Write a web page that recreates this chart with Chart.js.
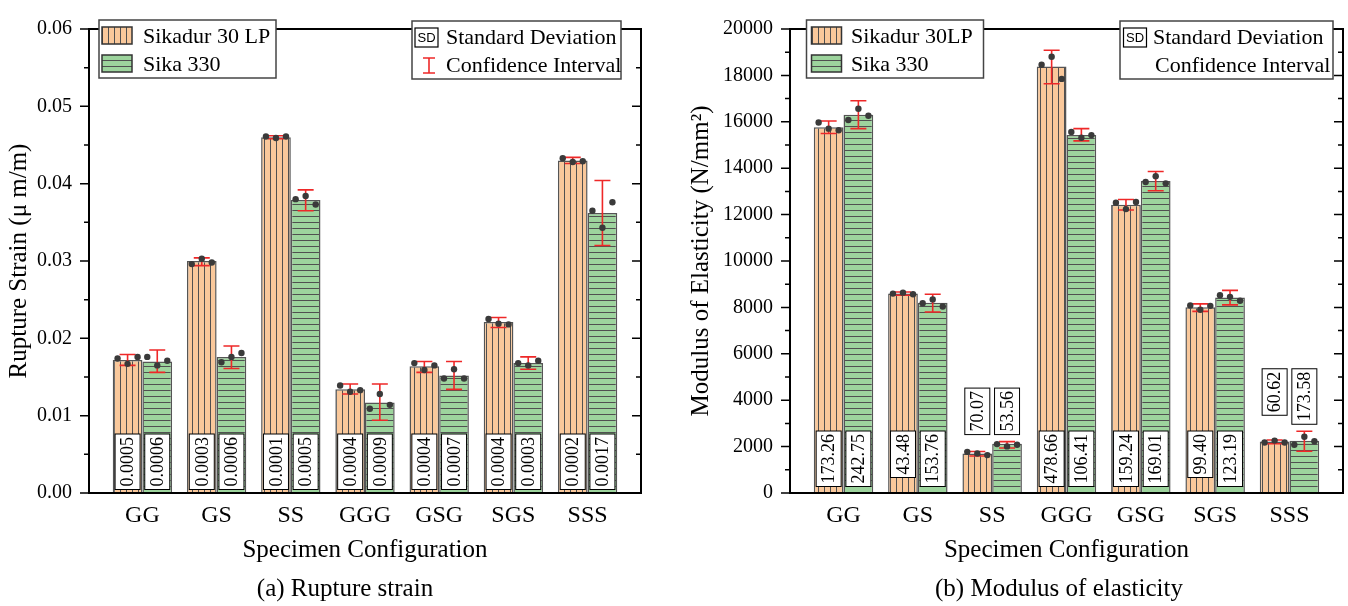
<!DOCTYPE html>
<html>
<head>
<meta charset="utf-8">
<script src="https://cdn.jsdelivr.net/npm/chart.js@4"></script>
<style>
  body { margin: 0; background: #fff; width: 1348px; height: 606px; overflow: hidden; position: relative; font-family: "Liberation Serif", serif; }
  canvas { position: absolute; top: 0; }
  .cap { position: absolute; top: 573px; width: 400px; line-height: 30px; font-size: 25px; text-align: center; color: #000; }
</style>
</head>
<body>
<canvas id="strain" width="674" height="606" style="left:0"></canvas>
<canvas id="modulus" width="674" height="606" style="left:674px"></canvas>
<div class="cap" style="left:145px">(a) Rupture strain</div>
<div class="cap" style="left:859px">(b) Modulus of elasticity</div>
<script>
const configs = ['GG', 'GS', 'SS', 'GGG', 'GSG', 'SGS', 'SSS'];

// (a) rupture strain
const strainSikadur = [0.0172, 0.0300, 0.0460, 0.0134, 0.0164, 0.0221, 0.0430];
const strainSika = [0.0170, 0.0176, 0.0379, 0.0117, 0.0152, 0.0168, 0.0362];
const strainCiSikadur = [[0.0165, 0.0179], [0.0294, 0.0304], [0.0458, 0.0462], [0.0128, 0.0141], [0.0156, 0.0170], [0.0214, 0.0227], [0.0426, 0.0434]];
const strainCiSika = [[0.0156, 0.0185], [0.0161, 0.0190], [0.0365, 0.0392], [0.0094, 0.0141], [0.0134, 0.0170], [0.0160, 0.0176], [0.0320, 0.0404]];
const strainPtsSikadur = [[0.0174, 0.0167, 0.0176], [0.0296, 0.0303, 0.0298], [0.0461, 0.0459, 0.0461], [0.0139, 0.0131, 0.0133], [0.0168, 0.0159, 0.0165], [0.0225, 0.0219, 0.0218], [0.0433, 0.0428, 0.0429]];
const strainPtsSika = [[0.0176, 0.0165, 0.0171], [0.0169, 0.0176, 0.0181], [0.0380, 0.0384, 0.0373], [0.0109, 0.0128, 0.0114], [0.0148, 0.0160, 0.0148], [0.0168, 0.0165, 0.0171], [0.0365, 0.0343, 0.0376]];
const strainSdSikadur = ['0.0005', '0.0003', '0.0001', '0.0004', '0.0004', '0.0004', '0.0002'];
const strainSdSika = ['0.0006', '0.0006', '0.0005', '0.0009', '0.0007', '0.0003', '0.0017'];

// (b) modulus of elasticity
const modSikadur = [15770, 8600, 1705, 18380, 12420, 8010, 2220];
const modSika = [16300, 8200, 2120, 15430, 13450, 8430, 2250];
const modCiSikadur = [[15497, 16037], [8524, 8662], [1594, 1788], [17643, 19085], [12196, 12654], [7830, 8150], [2121, 2287]];
const modCiSika = [[15704, 16910], [7804, 8565], [1940, 2216], [15176, 15704], [13027, 13859], [8108, 8732], [1801, 2661]];
const modPtsSikadur = [[15967, 15704, 15634], [8594, 8636, 8565], [1774, 1705, 1634], [18462, 18807, 17850], [12516, 12238, 12544], [8080, 7900, 8066], [2176, 2259, 2176]];
const modPtsSika = [[16078, 16562, 16258], [8178, 8344, 8039], [2107, 2009, 2079], [15565, 15314, 15426], [13403, 13652, 13347], [8524, 8455, 8288], [2079, 2425, 2231]];
const modSdSikadur = ['173.26', '43.48', '70.07', '478.66', '159.24', '99.40', '60.62'];
const modSdSika = ['242.75', '153.76', '53.56', '106.41', '169.01', '123.19', '173.58'];

const orange = '#f9c89b';
const green = '#9dd49d';
const red = '#ee2828';
const serif = 'Liberation Serif';

Chart.defaults.font.family = serif;
Chart.defaults.color = '#000';

function hatch(fill, vertical) {
  const c = document.createElement('canvas');
  c.width = 6; c.height = 6;
  const g = c.getContext('2d');
  g.fillStyle = fill;
  g.fillRect(0, 0, 6, 6);
  g.fillStyle = '#505050';
  if (vertical) g.fillRect(0, 0, 1, 6); else g.fillRect(0, 0, 6, 1);
  return g.createPattern(c, 'repeat');
}

function pointData(vals, shift) {
  const out = [];
  vals.forEach((trio, i) => trio.forEach((v, k) => out.push({ x: i + 1 + shift + (k - 1) * 0.135, y: v })));
  return out;
}

function swatch(ctx, x, y, pattern) {
  ctx.fillStyle = pattern;
  ctx.fillRect(x, y, 30, 17);
  ctx.strokeStyle = '#333';
  ctx.lineWidth = 1.5;
  ctx.strokeRect(x, y, 30, 17);
}

function sdIcon(ctx, x, cy) {
  ctx.fillStyle = '#fff';
  ctx.fillRect(x, cy - 9, 23, 19);
  ctx.strokeStyle = '#000';
  ctx.lineWidth = 1.2;
  ctx.strokeRect(x, cy - 9, 23, 19);
  ctx.fillStyle = '#000';
  ctx.font = '13px "Liberation Sans"';
  ctx.textAlign = 'center';
  ctx.textBaseline = 'middle';
  ctx.fillText('SD', x + 11.5, cy + 1);
}

const decor = {
  id: 'decor',
  afterDatasetDraw(chart, args, opts) {
    if (args.meta.type !== 'bar') return;
    const ci = opts.ci[args.index];
    const ys = chart.scales.y;
    const ctx = chart.ctx;
    ctx.save();
    ctx.strokeStyle = red;
    ctx.lineWidth = 1.6;
    args.meta.data.forEach((bar, i) => {
      const y0 = ys.getPixelForValue(ci[i][0]);
      const y1 = ys.getPixelForValue(ci[i][1]);
      ctx.beginPath();
      ctx.moveTo(bar.x, y0); ctx.lineTo(bar.x, y1);
      ctx.moveTo(bar.x - 8, y0); ctx.lineTo(bar.x + 8, y0);
      ctx.moveTo(bar.x - 8, y1); ctx.lineTo(bar.x + 8, y1);
      ctx.stroke();
    });
    ctx.restore();
  },
  afterDatasetsDraw(chart, args, opts) {
    const ctx = chart.ctx;
    const ys = chart.scales.y;
    const metas = [chart.getDatasetMeta(0), chart.getDatasetMeta(1)];
    ctx.save();
    ctx.font = '18px "' + serif + '"';
    const defTop = chart.chartArea.bottom - opts.sdTop;
    configs.forEach((c, i) => {
      const texts = [opts.sd[0][i], opts.sd[1][i]];
      const hs = texts.map(t => ctx.measureText(t).width + 6);
      const maxH = Math.max(...hs);
      const barTop = Math.max(metas[0].data[i].y, metas[1].data[i].y);
      let top = defTop;
      if (barTop > defTop) {
        const ciTop = Math.min(ys.getPixelForValue(opts.ci[0][i][1]), ys.getPixelForValue(opts.ci[1][i][1]));
        top = ciTop - 7 - maxH;
      }
      metas.forEach((m, d) => {
        const x = m.data[i].x;
        ctx.fillStyle = '#fff';
        ctx.fillRect(x - 12.5, top, 25, hs[d]);
        ctx.strokeStyle = '#000';
        ctx.lineWidth = 1;
        ctx.strokeRect(x - 12.5, top, 25, hs[d]);
        ctx.save();
        ctx.translate(x, top + hs[d] / 2);
        ctx.rotate(-Math.PI / 2);
        ctx.fillStyle = '#000';
        ctx.textAlign = 'center';
        ctx.textBaseline = 'middle';
        ctx.fillText(texts[d], 0, 1);
        ctx.restore();
      });
    });
    ctx.restore();
  },
  afterDraw(chart, args, opts) {
    const ctx = chart.ctx;
    const { left, right, top, bottom } = chart.chartArea;
    const ys = chart.scales.y;
    ctx.save();
    // frame and ticks
    ctx.strokeStyle = '#000';
    ctx.lineWidth = 2;
    ctx.strokeRect(left, top, right - left, bottom - top);
    ctx.lineWidth = 1.5;
    const n = Math.round((ys.max - ys.min) / opts.minor);
    for (let k = 0; k <= n; k++) {
      const y = ys.getPixelForValue(ys.min + k * opts.minor);
      const len = k % 2 === 0 ? 9 : 5;
      ctx.beginPath();
      ctx.moveTo(left - len, y); ctx.lineTo(left, y);
      ctx.moveTo(right - len, y); ctx.lineTo(right, y);
      ctx.stroke();
    }
    // legends
    const L = opts.legend;
    ctx.strokeStyle = '#444';
    ctx.lineWidth = 1.5;
    ctx.fillStyle = '#fff';
    ctx.fillRect(L.box1[0], L.box1[1], L.box1[2], L.box1[3]);
    ctx.strokeRect(L.box1[0], L.box1[1], L.box1[2], L.box1[3]);
    ctx.fillRect(L.box2[0], L.box2[1], L.box2[2], L.box2[3]);
    ctx.strokeRect(L.box2[0], L.box2[1], L.box2[2], L.box2[3]);
    swatch(ctx, L.swatchX, 27, chart.data.datasets[0].backgroundColor);
    swatch(ctx, L.swatchX, 55, chart.data.datasets[1].backgroundColor);
    ctx.fillStyle = '#000';
    ctx.font = '22px "' + serif + '"';
    ctx.textAlign = 'left';
    ctx.textBaseline = 'middle';
    ctx.fillText(chart.data.datasets[0].label, L.textX, 37);
    ctx.fillText(chart.data.datasets[1].label, L.textX, 65);
    sdIcon(ctx, L.sdX, 37);
    ctx.fillStyle = '#000';
    ctx.font = '22px "' + serif + '"';
    ctx.textAlign = 'left';
    ctx.fillText('Standard Deviation', L.text2X, 38);
    ctx.fillText('Confidence Interval', L.text3X, 66);
    if (L.ciIcon) {
      const x = L.ciIcon;
      ctx.strokeStyle = red;
      ctx.lineWidth = 1.6;
      ctx.beginPath();
      ctx.moveTo(x, 58); ctx.lineTo(x, 73);
      ctx.moveTo(x - 6, 58); ctx.lineTo(x + 6, 58);
      ctx.moveTo(x - 6, 73); ctx.lineTo(x + 6, 73);
      ctx.stroke();
    }
    ctx.restore();
  }
};

function makeChart(id, p) {
  return new Chart(document.getElementById(id), {
    type: 'bar',
    plugins: [decor],
    data: {
      datasets: [
        { label: p.names[0], data: p.a.map((v, i) => ({ x: i + 1, y: v })), backgroundColor: hatch(orange, true),
          borderColor: '#555', borderWidth: 1.5, categoryPercentage: 0.8, barPercentage: 1, order: 2 },
        { label: p.names[1], data: p.b.map((v, i) => ({ x: i + 1, y: v })), backgroundColor: hatch(green, false),
          borderColor: '#555', borderWidth: 1.5, categoryPercentage: 0.8, barPercentage: 1, order: 2 },
        { type: 'scatter', data: pointData(p.ptsA, -0.2), pointRadius: 3.2, backgroundColor: '#3a3a3a', borderWidth: 0, order: 1 },
        { type: 'scatter', data: pointData(p.ptsB, 0.2), pointRadius: 3.2, backgroundColor: '#3a3a3a', borderWidth: 0, order: 1 }
      ]
    },
    options: {
      responsive: false,
      animation: false,
      events: [],
      layout: { padding: { top: 14, right: p.padRight, left: 0, bottom: 0 } },
      plugins: {
        legend: { display: false },
        tooltip: { enabled: false },
        decor: { ci: [p.ciA, p.ciB], sd: [p.sdA, p.sdB], sdTop: p.sdTop, minor: p.minor, legend: p.legend }
      },
      scales: {
        x: {
          type: 'linear', min: 0.28, max: 7.72, offset: false,
          afterBuildTicks: s => { s.ticks = configs.map((c, i) => ({ value: i + 1 })); },
          afterFit: s => { s.height = 113; },
          grid: { display: false, drawTicks: false },
          border: { display: false },
          ticks: { callback: v => configs[v - 1], font: { size: 24 }, color: '#000', padding: 8, autoSkip: false, maxRotation: 0 },
          title: { display: true, text: 'Specimen Configuration', font: { size: 25 }, color: '#000', padding: { top: 0, bottom: 41 } }
        },
        y: {
          min: 0, max: p.yMax,
          afterFit: s => { s.width = p.yWidth; },
          grid: { display: false, drawTicks: false },
          border: { display: false },
          ticks: { stepSize: p.yStep, callback: p.fmt, font: { size: 20 }, color: '#000', padding: 17 },
          title: { display: true, text: p.yTitle, font: { size: 25 }, color: '#000', padding: { top: p.titlePad, bottom: 0 } }
        }
      }
    }
  });
}

makeChart('strain', {
  names: ['Sikadur 30 LP', 'Sika 330'],
  a: strainSikadur, b: strainSika, ptsA: strainPtsSikadur, ptsB: strainPtsSika,
  ciA: strainCiSikadur, ciB: strainCiSika, sdA: strainSdSikadur, sdB: strainSdSika,
  yMax: 0.06, yStep: 0.01, minor: 0.005, fmt: v => v.toFixed(2),
  yTitle: 'Rupture Strain (\u03bc m/m)', yWidth: 89, titlePad: 4, padRight: 33, sdTop: 59,
  legend: { box1: [99, 20, 177, 58], box2: [412, 21, 209, 58], swatchX: 102, textX: 143, sdX: 415, text2X: 446, text3X: 446, ciIcon: 429 }
});

makeChart('modulus', {
  names: ['Sikadur 30LP', 'Sika 330'],
  a: modSikadur, b: modSika, ptsA: modPtsSikadur, ptsB: modPtsSika,
  ciA: modCiSikadur, ciB: modCiSika, sdA: modSdSikadur, sdB: modSdSika,
  yMax: 20000, yStep: 2000, minor: 1000, fmt: v => String(v),
  yTitle: 'Modulus of Elasticity (N/mm\u00b2)', yWidth: 116, titlePad: 12, padRight: 5, sdTop: 62,
  legend: { box1: [132.5, 20, 177, 58], box2: [446, 21, 213, 58], swatchX: 137.5, textX: 177, sdX: 449.5, text2X: 479, text3X: 481, ciIcon: 0 }
});
</script>
</body>
</html>
